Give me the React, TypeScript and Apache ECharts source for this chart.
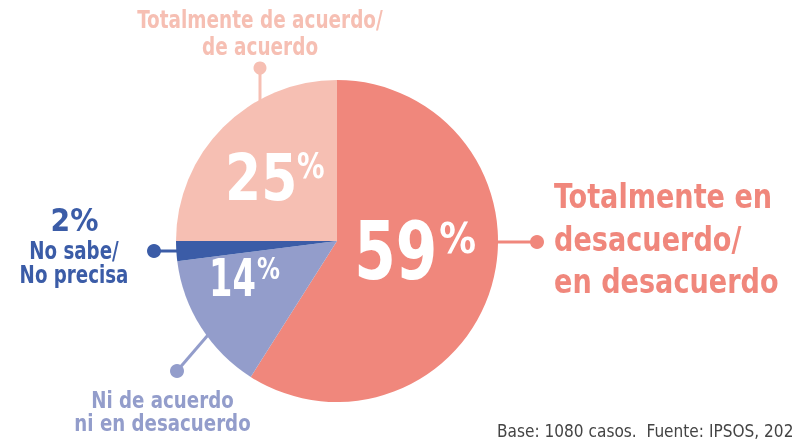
import React, { useEffect, useRef } from "react";
import * as echarts from "echarts";

const categories = [
  "Totalmente en desacuerdo/ en desacuerdo",
  "Ni de acuerdo ni en desacuerdo",
  "No sabe/ No precisa",
  "Totalmente de acuerdo/ de acuerdo",
];
const values = [59, 14, 2, 25];
const colors = ["#F0877C", "#939DCB", "#3B5CA7", "#F6BFB3"];
const footer = "Base: 1080 casos.  Fuente: IPSOS, 202";

const FONT = "'DejaVu Sans Condensed', 'Liberation Sans Narrow', 'Open Sans', sans-serif";
const CX = 337;
const CY = 241;
const R = 161;

// inside-label styling per slice: digit size/scale, percent size/scale, offsets from slice-mid anchor
const inside = [
  { n: 80, ns: 0.83, p: 43, ps: 0.95, nx: -60, ny: -52, px: 25, py: -47 },
  { n: 52, ns: 0.72, p: 30, ps: 0.85, nx: -60, ny: -32, px: -12, py: -30 },
  null,
  { n: 64, ns: 0.9, p: 36, ps: 0.85, nx: -55, ny: -39, px: 17, py: -36 },
];

export default function App() {
  const ref = useRef<HTMLDivElement>(null);
  useEffect(() => {
    if (!ref.current) return;
    const chart = echarts.init(ref.current, null, { renderer: "svg" });
    const total = values.reduce((a, b) => a + b, 0);
    let cum = 0;
    const insideGraphics: any[] = [];
    values.forEach((v, i) => {
      const mid = ((cum + v / 2) / total) * Math.PI * 2;
      cum += v;
      const L = inside[i];
      if (!L) return;
      const ax = CX + 0.5 * R * Math.sin(mid);
      const ay = CY - 0.5 * R * Math.cos(mid);
      insideGraphics.push(
        {
          type: "text",
          x: ax + L.nx,
          y: ay + L.ny,
          scaleX: L.ns,
          z: 100,
          silent: true,
          style: { text: String(v), fill: "#fff", fontFamily: FONT, fontWeight: "bold", fontSize: L.n, lineHeight: L.n, align: "left", verticalAlign: "top" },
        },
        {
          type: "text",
          x: ax + L.px,
          y: ay + L.py,
          scaleX: L.ps,
          z: 100,
          silent: true,
          style: { text: "%", fill: "#fff", fontFamily: FONT, fontWeight: "bold", fontSize: L.p, lineHeight: L.p, align: "left", verticalAlign: "top" },
        }
      );
    });
    const lbl = (color: string) => ({ fill: color, fontFamily: FONT, fontWeight: "bold", verticalAlign: "top" });
    chart.setOption({
      animation: false,
      series: [
        {
          type: "pie",
          center: [CX, CY],
          radius: R,
          startAngle: 90,
          clockwise: true,
          silent: true,
          z: 1,
          label: { show: false },
          labelLine: { show: false },
          data: categories.map((c, i) => ({ name: c, value: values[i], itemStyle: { color: colors[i] } })),
        },
      ],
      graphic: [
        ...insideGraphics,
        // top
        { type: "line", shape: { x1: 260, y1: 68, x2: 260, y2: 102 }, style: { stroke: colors[3], lineWidth: 3 } },
        { type: "circle", shape: { cx: 260, cy: 68, r: 6.5 }, style: { fill: colors[3] } },
        { type: "text", x: 260, y: 5.7, scaleX: 0.82, style: { ...lbl(colors[3]), text: "Totalmente de acuerdo/\nde acuerdo", fontSize: 25, lineHeight: 27, align: "center" } },
        // left
        { type: "line", shape: { x1: 154, y1: 251, x2: 182, y2: 251 }, style: { stroke: colors[2], lineWidth: 3 } },
        { type: "circle", shape: { cx: 154, cy: 251, r: 7 }, style: { fill: colors[2] } },
        { type: "text", x: 74.5, y: 203.6, scaleX: 0.98, style: { ...lbl(colors[2]), text: "2%", fontSize: 32, lineHeight: 32, align: "center" } },
        { type: "text", x: 74, y: 238, scaleX: 0.845, style: { ...lbl(colors[2]), text: "No sabe/\nNo precisa", fontSize: 24, lineHeight: 24, align: "center" } },
        // bottom
        { type: "line", shape: { x1: 177, y1: 371, x2: 208, y2: 335 }, style: { stroke: colors[1], lineWidth: 3 } },
        { type: "circle", shape: { cx: 177, cy: 371, r: 7 }, style: { fill: colors[1] } },
        { type: "text", x: 162.5, y: 388.7, scaleX: 0.88, style: { ...lbl(colors[1]), text: "Ni de acuerdo\nni en desacuerdo", fontSize: 23, lineHeight: 23, align: "center" } },
        // right
        { type: "line", shape: { x1: 496, y1: 242, x2: 537, y2: 242 }, style: { stroke: colors[0], lineWidth: 3 } },
        { type: "circle", shape: { cx: 537, cy: 242, r: 7 }, style: { fill: colors[0] } },
        { type: "text", x: 554, y: 175.6, scaleX: 0.9, style: { ...lbl(colors[0]), text: "Totalmente en\ndesacuerdo/\nen desacuerdo", fontSize: 33.5, lineHeight: 42.3, align: "left" } },
        // footer
        { type: "text", x: 497, y: 421.4, scaleX: 0.95, style: { fill: "#444", fontFamily: FONT, text: footer, fontSize: 18, lineHeight: 18, align: "left", verticalAlign: "top" } },
      ],
    });
    return () => chart.dispose();
  }, []);
  return <div ref={ref} style={{ position: "fixed", left: 0, top: 0, width: 799, height: 440 }} />;
}
